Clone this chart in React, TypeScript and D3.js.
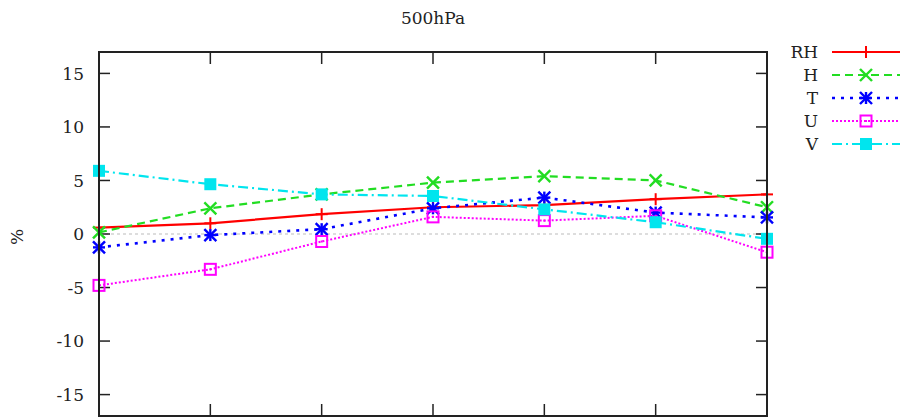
import React from "react";
import * as d3 from "d3";

// Forecast-step index along the x axis
const steps = [0, 1, 2, 3, 4, 5, 6];

// Percentage values per variable at 500hPa
const rhValues = [0.6, 1.0, 1.85, 2.5, 2.7, 3.25, 3.7];
const hValues = [0.15, 2.4, 3.7, 4.8, 5.4, 5.0, 2.5];
const tValues = [-1.25, -0.1, 0.45, 2.4, 3.4, 2.0, 1.55];
const uValues = [-4.8, -3.3, -0.7, 1.6, 1.25, 1.7, -1.7];
const vValues = [5.9, 4.65, 3.7, 3.55, 2.3, 1.1, -0.45];

const yTicks = [15, 10, 5, 0, -5, -10, -15];
const seriesNames = ["RH", "H", "T", "U", "V"];

type Marker = "plus" | "cross" | "star" | "openSquare" | "square";

const seriesStyle: Record<string, { color: string; dash: string; marker: Marker; width: number }> = {
  RH: { color: "#ff0000", dash: "none", marker: "plus", width: 2.2 },
  H: { color: "#22dd22", dash: "8,5", marker: "cross", width: 2.2 },
  T: { color: "#0000ff", dash: "3,6", marker: "star", width: 2.6 },
  U: { color: "#ff00ff", dash: "2,2", marker: "openSquare", width: 2 },
  V: { color: "#00e5ee", dash: "10,4,2,4", marker: "square", width: 2.2 },
};

const seriesValues: Record<string, number[]> = {
  RH: rhValues,
  H: hValues,
  T: tValues,
  U: uValues,
  V: vValues,
};

const W = 920;
const H = 418;
const left = 99;
const right = 767;
const top = 52;
const bottom = 416;

const x = d3.scaleLinear().domain([0, 6]).range([left, right]);
const y = d3.scaleLinear().domain([-17, 17]).range([bottom, top]);

const FONT = "'DejaVu Serif', 'Liberation Serif', serif";
const FS = 17;

function MarkerShape({ kind, cx, cy, color }: { kind: Marker; cx: number; cy: number; color: string }) {
  const s = 6;
  switch (kind) {
    case "plus":
      return (
        <g stroke={color} strokeWidth={2}>
          <line x1={cx - s} y1={cy} x2={cx + s} y2={cy} />
          <line x1={cx} y1={cy - s} x2={cx} y2={cy + s} />
        </g>
      );
    case "cross":
      return (
        <g stroke={color} strokeWidth={2.4}>
          <line x1={cx - s} y1={cy - s} x2={cx + s} y2={cy + s} />
          <line x1={cx - s} y1={cy + s} x2={cx + s} y2={cy - s} />
        </g>
      );
    case "star":
      return (
        <g stroke={color} strokeWidth={2.4}>
          <line x1={cx - s} y1={cy} x2={cx + s} y2={cy} />
          <line x1={cx} y1={cy - s} x2={cx} y2={cy + s} />
          <line x1={cx - s} y1={cy - s} x2={cx + s} y2={cy + s} />
          <line x1={cx - s} y1={cy + s} x2={cx + s} y2={cy - s} />
        </g>
      );
    case "openSquare":
      return (
        <g>
          <rect x={cx - 5.5} y={cy - 5.5} width={11} height={11} fill="none" stroke={color} strokeWidth={2} />
          <rect x={cx - 1} y={cy - 1} width={2} height={2} fill={color} />
        </g>
      );
    case "square":
      return <rect x={cx - s} y={cy - s} width={2 * s} height={2 * s} fill={color} />;
  }
}

export default function App() {
  const line = d3
    .line<number>()
    .x((_, i) => x(steps[i]))
    .y((d) => y(d));

  return (
    <svg
      width={W}
      height={H}
      style={{ position: "absolute", left: 0, top: 0, background: "#fff" }}
      fontFamily={FONT}
    >
      {/* title */}
      <text x={433} y={24} textAnchor="middle" fontSize={FS} fill="#222">
        500hPa
      </text>

      {/* y-axis label */}
      <text
        transform={`translate(23,237) rotate(-90)`}
        textAnchor="middle"
        fontSize={FS}
        fill="#222"
      >
        %
      </text>

      {/* zero reference line */}
      <line
        x1={left}
        x2={right}
        y1={y(0)}
        y2={y(0)}
        stroke="#bbb"
        strokeWidth={1}
        strokeDasharray="3,3"
      />

      {/* y ticks and labels */}
      {yTicks.map((t) => (
        <g key={t}>
          <line x1={left} x2={left + 11} y1={y(t)} y2={y(t)} stroke="#222" strokeWidth={1.5} />
          <line x1={right - 11} x2={right} y1={y(t)} y2={y(t)} stroke="#222" strokeWidth={1.5} />
          <text x={84} y={y(t)} dy="0.36em" textAnchor="end" fontSize={FS} fill="#222">
            {t}
          </text>
        </g>
      ))}

      {/* x ticks */}
      {steps.slice(1, -1).map((s) => (
        <g key={s}>
          <line x1={x(s)} x2={x(s)} y1={top} y2={top + 12} stroke="#222" strokeWidth={1.5} />
          <line x1={x(s)} x2={x(s)} y1={bottom} y2={bottom - 12} stroke="#222" strokeWidth={1.5} />
        </g>
      ))}

      {/* series */}
      {seriesNames.map((name) => {
        const st = seriesStyle[name];
        const vals = seriesValues[name];
        return (
          <g key={name}>
            <path
              d={line(vals) ?? ""}
              fill="none"
              stroke={st.color}
              strokeWidth={st.width}
              strokeDasharray={st.dash}
            />
            {vals.map((v, i) => (
              <MarkerShape key={i} kind={st.marker} cx={x(steps[i])} cy={y(v)} color={st.color} />
            ))}
          </g>
        );
      })}

      {/* frame */}
      <rect
        x={left}
        y={top}
        width={right - left}
        height={bottom - top}
        fill="none"
        stroke="#222"
        strokeWidth={2}
      />

      {/* legend */}
      {seriesNames.map((name, i) => {
        const st = seriesStyle[name];
        const ly = 52 + i * 23;
        return (
          <g key={name}>
            <text x={818} y={ly} dy="0.36em" textAnchor="end" fontSize={FS} fill="#222">
              {name}
            </text>
            <line
              x1={832}
              x2={900}
              y1={ly}
              y2={ly}
              stroke={st.color}
              strokeWidth={st.width}
              strokeDasharray={st.dash}
            />
            <MarkerShape kind={st.marker} cx={866} cy={ly} color={st.color} />
          </g>
        );
      })}
    </svg>
  );
}
